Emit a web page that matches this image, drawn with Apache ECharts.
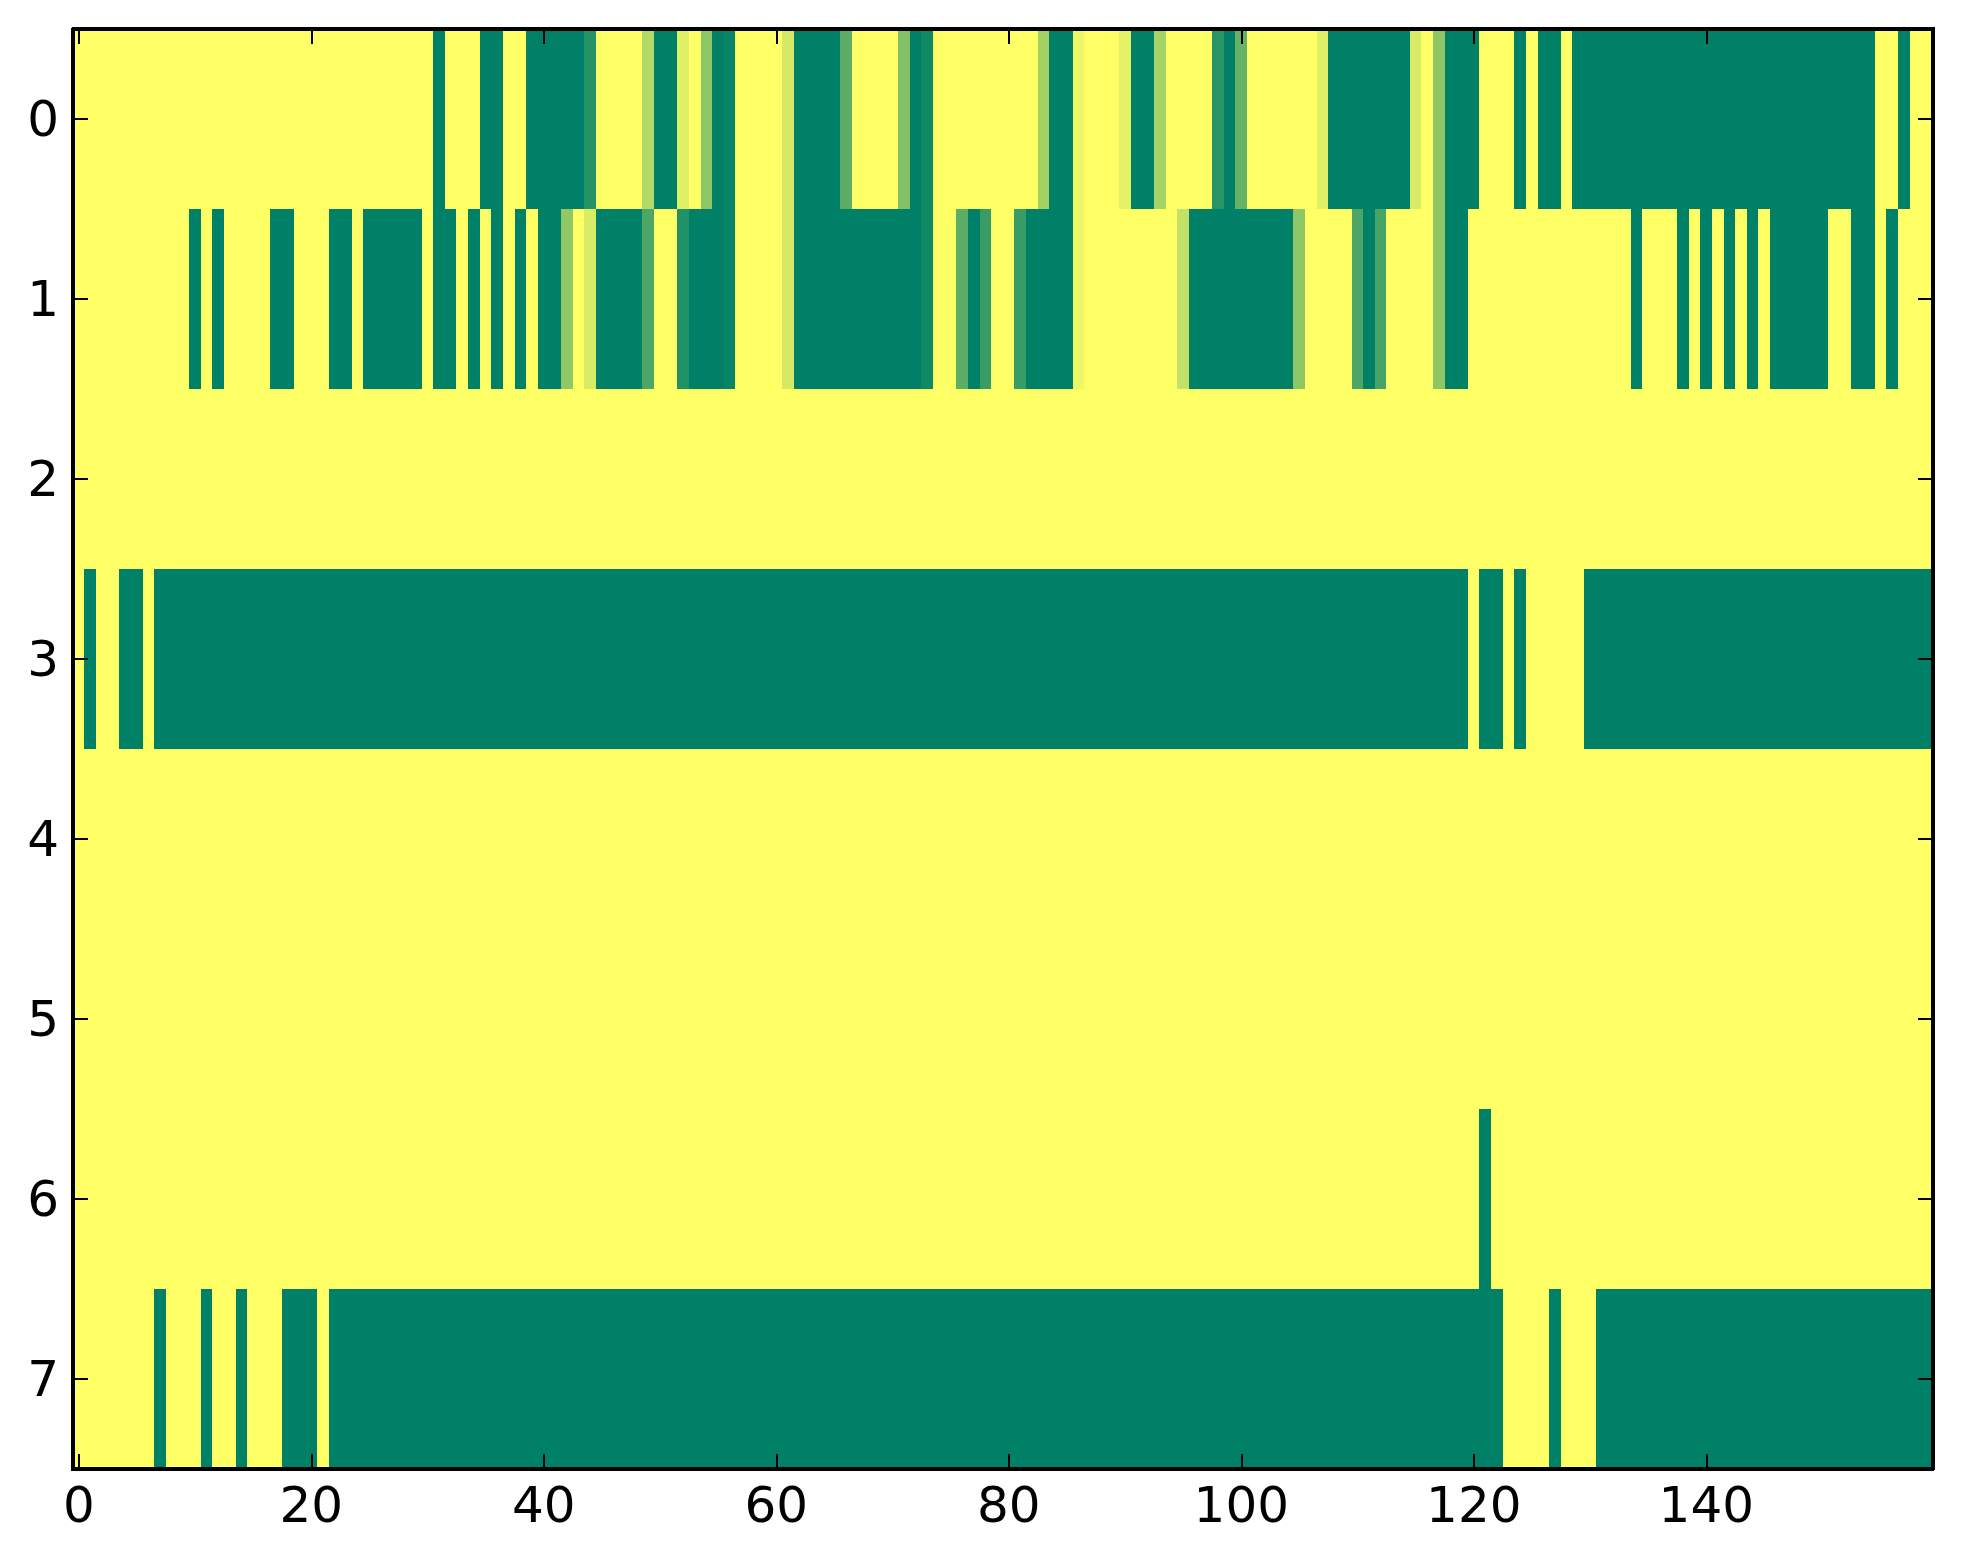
<!DOCTYPE html>
<html>
<head>
<meta charset="utf-8">
<script src="https://cdn.jsdelivr.net/npm/echarts@6/dist/echarts.min.js"></script>
<style>
  html, body { margin: 0; padding: 0; background: #ffffff; }
  #chart { width: 1963px; height: 1564px; }
  #chart svg path, #chart svg rect { shape-rendering: crispEdges; }
</style>
</head>
<body>
<div id="chart"></div>
<script>
// ---- data (0 = green, 1 = yellow) ----
const nCols = 160;
const xTickValues = [0, 20, 40, 60, 80, 100, 120, 140];
const yLabels = ['0', '1', '2', '3', '4', '5', '6', '7'];

const row0 = [
  1,1,1,1,1,1,1,1,1,1,
  1,1,1,1,1,1,1,1,1,1,
  1,1,1,1,1,1,1,1,1,1,
  1,0,1,1,1,0,0,1,1,0,
  0,0,0,0,0.15,1,1,1,1,0.7,
  0,0,0.88,1,0.55,0,0.03,1,1,1,
  1,0.83,0,0,0,0,0.36,1,1,1,
  1,0.51,0,0.06,1,1,1,1,1,1,
  1,1,1,0.64,0,0,0.94,1,1,1,
  0.89,0,0,0.65,1,1,1,1,0.16,0,
  0.4,1,1,1,1,1,1,0.88,0,0,
  0,0,0,0,0,0.85,1,0.56,0,0,
  0,1,1,1,0,1,0,0,1,0,
  0,0,0,0,0,0,0,0,0,0,
  0,0,0,0,0,0,0,0,0,0,
  0,0,0,0,0,1,1,0,1,1
];
const row1 = [
  1,1,1,1,1,1,1,1,1,1,
  0,1,0,1,1,1,1,0,0,1,
  1,1,0,0,1,0,0,0,0,0,
  1,0,0,1,0,1,0,1,0,1,
  0,0,0.57,1,0.85,0,0,0,0,0.3,
  1,1,0.13,0,0,0,0.03,1,1,1,
  1,0.83,0,0,0,0,0,0,0,0,
  0,0,0,0.06,1,1,0.36,0,0.22,1,
  1,0.22,0,0,0,0,0.94,1,1,1,
  1,1,1,1,1,0.76,0,0,0,0,
  0,0,0,0,0,0.55,1,1,1,1,
  0.3,0,0.28,1,1,1,1,0.56,0,0,
  1,1,1,1,1,1,1,1,1,1,
  1,1,1,1,0,1,1,1,0,1,
  0,1,0,1,0,1,0,0,0,0,
  0,1,1,0,0,1,0,1,1,1
];
const row2 = [
  1,1,1,1,1,1,1,1,1,1, 1,1,1,1,1,1,1,1,1,1,
  1,1,1,1,1,1,1,1,1,1, 1,1,1,1,1,1,1,1,1,1,
  1,1,1,1,1,1,1,1,1,1, 1,1,1,1,1,1,1,1,1,1,
  1,1,1,1,1,1,1,1,1,1, 1,1,1,1,1,1,1,1,1,1,
  1,1,1,1,1,1,1,1,1,1, 1,1,1,1,1,1,1,1,1,1,
  1,1,1,1,1,1,1,1,1,1, 1,1,1,1,1,1,1,1,1,1,
  1,1,1,1,1,1,1,1,1,1, 1,1,1,1,1,1,1,1,1,1,
  1,1,1,1,1,1,1,1,1,1, 1,1,1,1,1,1,1,1,1,1
];
const row3 = [
  1,0,1,1,0,0,1,0,0,0, 0,0,0,0,0,0,0,0,0,0,
  0,0,0,0,0,0,0,0,0,0, 0,0,0,0,0,0,0,0,0,0,
  0,0,0,0,0,0,0,0,0,0, 0,0,0,0,0,0,0,0,0,0,
  0,0,0,0,0,0,0,0,0,0, 0,0,0,0,0,0,0,0,0,0,
  0,0,0,0,0,0,0,0,0,0, 0,0,0,0,0,0,0,0,0,0,
  0,0,0,0,0,0,0,0,0,0, 0,0,0,0,0,0,0,0,0,0,
  1,0,0,1,0,1,1,1,1,1, 0,0,0,0,0,0,0,0,0,0,
  0,0,0,0,0,0,0,0,0,0, 0,0,0,0,0,0,0,0,0,0
];
const row4 = [
  1,1,1,1,1,1,1,1,1,1, 1,1,1,1,1,1,1,1,1,1,
  1,1,1,1,1,1,1,1,1,1, 1,1,1,1,1,1,1,1,1,1,
  1,1,1,1,1,1,1,1,1,1, 1,1,1,1,1,1,1,1,1,1,
  1,1,1,1,1,1,1,1,1,1, 1,1,1,1,1,1,1,1,1,1,
  1,1,1,1,1,1,1,1,1,1, 1,1,1,1,1,1,1,1,1,1,
  1,1,1,1,1,1,1,1,1,1, 1,1,1,1,1,1,1,1,1,1,
  1,1,1,1,1,1,1,1,1,1, 1,1,1,1,1,1,1,1,1,1,
  1,1,1,1,1,1,1,1,1,1, 1,1,1,1,1,1,1,1,1,1
];
const row5 = [
  1,1,1,1,1,1,1,1,1,1, 1,1,1,1,1,1,1,1,1,1,
  1,1,1,1,1,1,1,1,1,1, 1,1,1,1,1,1,1,1,1,1,
  1,1,1,1,1,1,1,1,1,1, 1,1,1,1,1,1,1,1,1,1,
  1,1,1,1,1,1,1,1,1,1, 1,1,1,1,1,1,1,1,1,1,
  1,1,1,1,1,1,1,1,1,1, 1,1,1,1,1,1,1,1,1,1,
  1,1,1,1,1,1,1,1,1,1, 1,1,1,1,1,1,1,1,1,1,
  1,1,1,1,1,1,1,1,1,1, 1,1,1,1,1,1,1,1,1,1,
  1,1,1,1,1,1,1,1,1,1, 1,1,1,1,1,1,1,1,1,1
];
const row6 = [
  1,1,1,1,1,1,1,1,1,1, 1,1,1,1,1,1,1,1,1,1,
  1,1,1,1,1,1,1,1,1,1, 1,1,1,1,1,1,1,1,1,1,
  1,1,1,1,1,1,1,1,1,1, 1,1,1,1,1,1,1,1,1,1,
  1,1,1,1,1,1,1,1,1,1, 1,1,1,1,1,1,1,1,1,1,
  1,1,1,1,1,1,1,1,1,1, 1,1,1,1,1,1,1,1,1,1,
  1,1,1,1,1,1,1,1,1,1, 1,1,1,1,1,1,1,1,1,1,
  1,0,1,1,1,1,1,1,1,1, 1,1,1,1,1,1,1,1,1,1,
  1,1,1,1,1,1,1,1,1,1, 1,1,1,1,1,1,1,1,1,1
];
const row7 = [
  1,1,1,1,1,1,1,0,1,1, 1,0,1,1,0,1,1,1,0,0,
  0,1,0,0,0,0,0,0,0,0, 0,0,0,0,0,0,0,0,0,0,
  0,0,0,0,0,0,0,0,0,0, 0,0,0,0,0,0,0,0,0,0,
  0,0,0,0,0,0,0,0,0,0, 0,0,0,0,0,0,0,0,0,0,
  0,0,0,0,0,0,0,0,0,0, 0,0,0,0,0,0,0,0,0,0,
  0,0,0,0,0,0,0,0,0,0, 0,0,0,0,0,0,0,0,0,0,
  0,0,0,1,1,1,1,0,1,1, 1,0,0,0,0,0,0,0,0,0,
  0,0,0,0,0,0,0,0,0,0, 0,0,0,0,0,0,0,0,0,0
];
const rows = [row0, row1, row2, row3, row4, row5, row6, row7];

// ---- build the library's tables ----
const xCategories = [];
for (let i = 0; i < nCols; i++) xCategories.push(String(i));
const heatData = [];
rows.forEach((r, y) => r.forEach((v, x) => heatData.push([x, y, v])));

const FONT = 'DejaVu Sans';
const tickInterval = (idx) => xTickValues.indexOf(idx) >= 0;
const axisLineStyle = { color: '#000', width: 4 };
const tickStyle = { color: '#000', width: 2 };

const chart = echarts.init(document.getElementById('chart'), null, { renderer: 'svg' });
chart.setOption({
  animation: false,
  backgroundColor: '#ffffff',
  grid: { left: 73, top: 29, width: 1860, height: 1440, containLabel: false },
  xAxis: [
    {
      type: 'category', data: xCategories, position: 'bottom', z: 10,
      axisLine: { show: true, lineStyle: axisLineStyle },
      axisTick: { show: true, inside: true, length: 15, alignWithLabel: true, interval: tickInterval, lineStyle: tickStyle },
      axisLabel: { show: true, interval: tickInterval, fontSize: 50, fontFamily: FONT, color: '#000', margin: 11 },
      splitLine: { show: false }, splitArea: { show: false }
    },
    {
      type: 'category', data: xCategories, position: 'top', z: 10,
      axisLine: { show: true, lineStyle: axisLineStyle },
      axisTick: { show: true, inside: true, length: 15, alignWithLabel: true, interval: tickInterval, lineStyle: tickStyle },
      axisLabel: { show: false },
      splitLine: { show: false }, splitArea: { show: false }
    }
  ],
  yAxis: [
    {
      type: 'category', data: yLabels, inverse: true, position: 'left', z: 10,
      axisLine: { show: true, lineStyle: axisLineStyle },
      axisTick: { show: true, inside: true, length: 15, alignWithLabel: true, interval: 0, lineStyle: tickStyle },
      axisLabel: { show: true, interval: 0, fontSize: 50, fontFamily: FONT, color: '#000', margin: 14 },
      splitLine: { show: false }, splitArea: { show: false }
    },
    {
      type: 'category', data: yLabels, inverse: true, position: 'right', z: 10,
      axisLine: { show: true, lineStyle: axisLineStyle },
      axisTick: { show: true, inside: true, length: 15, alignWithLabel: true, interval: 0, lineStyle: tickStyle },
      axisLabel: { show: false },
      splitLine: { show: false }, splitArea: { show: false }
    }
  ],
  visualMap: {
    show: false, type: 'continuous', min: 0, max: 1, dimension: 2, seriesIndex: 0,
    inRange: { color: ['#008066', '#ffff66'] }
  },
  series: [{
    type: 'heatmap',
    xAxisIndex: 0, yAxisIndex: 0,
    data: heatData,
    progressive: 0,
    itemStyle: { borderWidth: 0 },
    emphasis: { disabled: true },
    z: 1
  }]
});
</script>
</body>
</html>
